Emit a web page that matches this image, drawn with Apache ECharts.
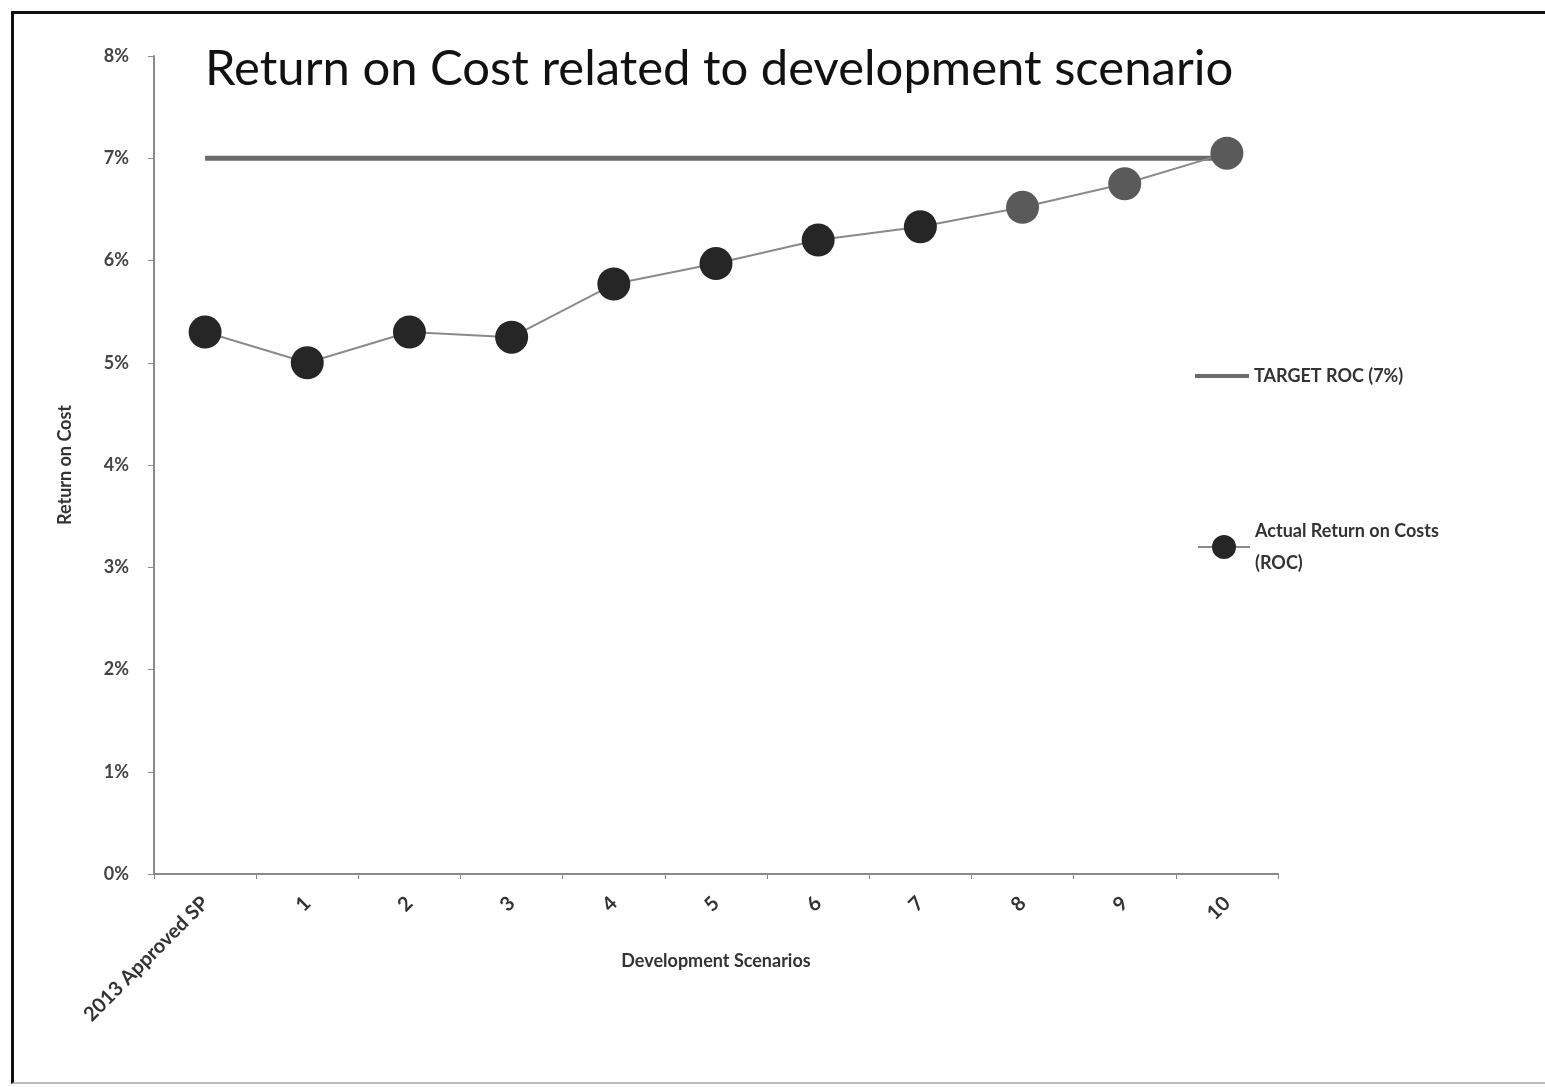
<!DOCTYPE html>
<html>
<head>
<meta charset="utf-8">
<title>Return on Cost</title>
<script src="https://cdn.jsdelivr.net/npm/echarts@6/dist/echarts.min.js"></script>
<style>
    html, body { margin: 0; padding: 0; background: #fff; }
    #chart { width: 1545px; height: 1087px; }
    #frame {
        position: absolute; left: 11px; top: 11px; width: 1560px; height: 1068px;
        border-left: 3px solid #111; border-top: 3px solid #111; border-bottom: 2px solid #bbb;
        pointer-events: none;
    }
</style>
</head>
<body>
<div id="chart"></div>
<div id="frame"></div>
<script>
    const scenarios = ['2013 Approved SP', '1', '2', '3', '4', '5', '6', '7', '8', '9', '10']
    const actualRoc = [5.3, 5.0, 5.3, 5.25, 5.77, 5.97, 6.2, 6.33, 6.52, 6.75, 7.05]
    const targetRoc = [7, 7, 7, 7, 7, 7, 7, 7, 7, 7, 7]
    const yTicks = [0, 1, 2, 3, 4, 5, 6, 7, 8]

    const font = 'Lato, "Open Sans", sans-serif'
    const labelStyle = { fontFamily: font, fontSize: 18, fontWeight: 'bold', color: '#333' }
    const chart = echarts.init(document.getElementById('chart'))

    chart.setOption({
        backgroundColor: '#fff',
        title: {
            text: 'Return on Cost related to development scenario',
            left: 200,
            top: 40,
            textStyle: { fontFamily: font, fontSize: 49, fontWeight: 'normal', color: '#111' }
        },
        legend: [{
            // target line
            orient: 'vertical',
            left: 1190,
            top: 362,
            itemWidth: 54,
            itemHeight: 4,
            icon: 'rect',
            data: ['TARGET ROC (7%)'],
            textStyle: labelStyle
        }, {
            orient: 'vertical',
            left: 1192,
            top: 510,
            itemWidth: 52,
            itemHeight: 30,
            data: [{ name: 'Actual Return on Costs (ROC)', itemStyle: { color: '#262626' } }],
            formatter: function (name) {
                return name.replace(' (ROC)', '\n(ROC)')
            },
            textStyle: Object.assign({}, labelStyle, { lineHeight: 32 })
        }],
        grid: {
            left: 154,
            right: 267,
            top: 56,
            bottom: 213,
            containLabel: false
        },
        xAxis: {
            type: 'category',
            data: scenarios,
            boundaryGap: true,
            name: 'Development Scenarios',
            nameLocation: 'middle',
            nameGap: 78,
            nameMoveOverlap: false,
            nameTextStyle: labelStyle,
            axisLine: { lineStyle: { color: '#8a8a8a', width: 2 } },
            axisTick: { show: true, length: 5, lineStyle: { color: '#8a8a8a' } },
            axisLabel: Object.assign({
                interval: 0,
                rotate: 45,
                margin: 26
            }, labelStyle, { fontSize: 20 })
        },
        yAxis: {
            type: 'value',
            min: yTicks[0],
            max: yTicks[yTicks.length - 1],
            interval: 1,
            name: 'Return on Cost',
            nameLocation: 'middle',
            nameGap: 80,
            nameTextStyle: labelStyle,
            axisLine: { show: true, lineStyle: { color: '#8a8a8a', width: 2 } },
            axisTick: { show: true, inside: false, length: 6, lineStyle: { color: '#8a8a8a' } },
            splitLine: { show: false },
            axisLabel: Object.assign({
                formatter: '{value}%',
                margin: 25
            }, labelStyle, { color: '#444' })
        },
        series: [{
            name: 'TARGET ROC (7%)',
            type: 'line',
            data: targetRoc,
            showSymbol: false,
            symbol: 'none',
            lineStyle: { color: '#6a6a6a', width: 5 },
            itemStyle: { color: '#6a6a6a' },
            z: 2
        }, {
            name: 'Actual Return on Costs (ROC)',
            type: 'line',
            data: actualRoc,
            symbol: 'circle',
            symbolSize: 33,
            lineStyle: { color: '#8a8a8a', width: 2 },
            itemStyle: {
                color: function (p) {
                    return p.dataIndex >= 8 ? '#5a5a5a' : '#262626'
                }
            },
            z: 3
        }]
    })
</script>
</body>
</html>
